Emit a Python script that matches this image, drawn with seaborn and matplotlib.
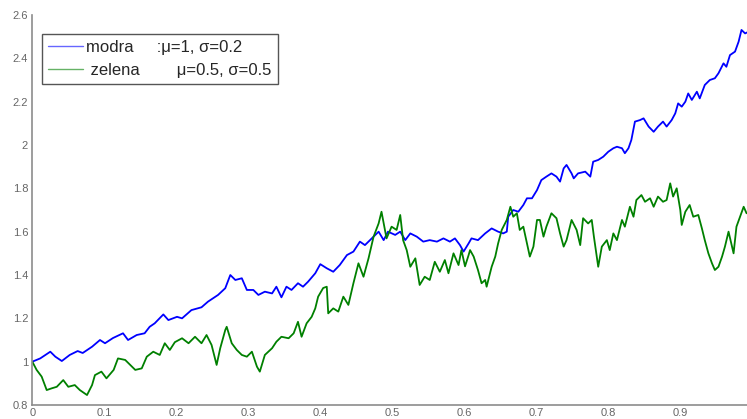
import numpy as np
import pandas as pd
import matplotlib
matplotlib.use("Agg")
import matplotlib.pyplot as plt
import seaborn as sns

# Blue path ("modra"): mu=1, sigma=0.2
t_blue = [0.000, 0.011, 0.025, 0.032, 0.041, 0.052, 0.063, 0.070, 0.083, 0.094,
          0.101, 0.112, 0.126, 0.133, 0.145, 0.156, 0.163, 0.170, 0.182, 0.189,
          0.201, 0.208, 0.221, 0.235, 0.244, 0.258, 0.268, 0.275, 0.282, 0.291,
          0.298, 0.307, 0.314, 0.323, 0.333, 0.339, 0.346, 0.353, 0.360, 0.369,
          0.376, 0.383, 0.393, 0.400, 0.409, 0.418, 0.427, 0.437, 0.446, 0.455,
          0.462, 0.469, 0.481, 0.488, 0.494, 0.504, 0.511, 0.518, 0.525, 0.534,
          0.543, 0.552, 0.562, 0.571, 0.580, 0.587, 0.594, 0.599, 0.606, 0.610,
          0.619, 0.629, 0.638, 0.647, 0.654, 0.659, 0.661, 0.668, 0.675, 0.682,
          0.687, 0.694, 0.701, 0.707, 0.714, 0.721, 0.728, 0.733, 0.738, 0.742,
          0.749, 0.752, 0.758, 0.768, 0.775, 0.779, 0.786, 0.793, 0.800, 0.807,
          0.812, 0.819, 0.823, 0.828, 0.832, 0.837, 0.844, 0.849, 0.856, 0.863,
          0.869, 0.876, 0.881, 0.888, 0.893, 0.897, 0.902, 0.907, 0.911, 0.916,
          0.923, 0.927, 0.934, 0.941, 0.948, 0.953, 0.960, 0.964, 0.969, 0.976,
          0.981, 0.985, 0.990, 0.993, 1.000]
y_blue = [1.000, 1.015, 1.046, 1.023, 1.003, 1.031, 1.049, 1.040, 1.069, 1.100,
          1.085, 1.109, 1.131, 1.100, 1.123, 1.131, 1.161, 1.177, 1.218, 1.192,
          1.207, 1.200, 1.238, 1.251, 1.277, 1.308, 1.339, 1.400, 1.377, 1.385,
          1.331, 1.331, 1.308, 1.323, 1.315, 1.346, 1.297, 1.346, 1.331, 1.362,
          1.346, 1.369, 1.408, 1.450, 1.431, 1.415, 1.446, 1.492, 1.508, 1.554,
          1.538, 1.561, 1.600, 1.561, 1.600, 1.585, 1.600, 1.561, 1.592, 1.577,
          1.554, 1.561, 1.554, 1.569, 1.554, 1.569, 1.538, 1.508, 1.546, 1.569,
          1.561, 1.592, 1.615, 1.600, 1.592, 1.600, 1.669, 1.700, 1.692, 1.723,
          1.754, 1.754, 1.792, 1.838, 1.854, 1.869, 1.854, 1.831, 1.892, 1.908,
          1.869, 1.846, 1.869, 1.877, 1.854, 1.923, 1.931, 1.946, 1.969, 1.985,
          1.992, 1.985, 1.962, 1.985, 2.023, 2.108, 2.115, 2.123, 2.085, 2.061,
          2.085, 2.108, 2.085, 2.115, 2.146, 2.192, 2.177, 2.200, 2.238, 2.208,
          2.246, 2.215, 2.277, 2.300, 2.308, 2.331, 2.377, 2.361, 2.415, 2.431,
          2.477, 2.531, 2.515, 2.520, 2.530]

# Green path ("zelena"): mu=0.5, sigma=0.5
t_green = [0.000, 0.006, 0.013, 0.020, 0.027, 0.034, 0.043, 0.050, 0.059, 0.066,
           0.076, 0.083, 0.087, 0.096, 0.103, 0.113, 0.119, 0.129, 0.136, 0.143,
           0.152, 0.159, 0.168, 0.177, 0.184, 0.191, 0.198, 0.208, 0.217, 0.226,
           0.235, 0.242, 0.249, 0.256, 0.261, 0.268, 0.270, 0.277, 0.284, 0.291,
           0.298, 0.305, 0.312, 0.316, 0.323, 0.333, 0.339, 0.346, 0.356, 0.363,
           0.369, 0.374, 0.381, 0.388, 0.393, 0.397, 0.404, 0.409, 0.411, 0.418,
           0.425, 0.432, 0.439, 0.446, 0.453, 0.460, 0.467, 0.474, 0.481, 0.485,
           0.492, 0.499, 0.506, 0.511, 0.515, 0.520, 0.525, 0.532, 0.538, 0.545,
           0.552, 0.559, 0.566, 0.573, 0.578, 0.585, 0.592, 0.596, 0.601, 0.606,
           0.608, 0.613, 0.619, 0.624, 0.629, 0.631, 0.638, 0.643, 0.647, 0.652,
           0.659, 0.664, 0.668, 0.673, 0.677, 0.682, 0.687, 0.691, 0.696, 0.701,
           0.705, 0.710, 0.714, 0.721, 0.728, 0.733, 0.738, 0.742, 0.749, 0.756,
           0.761, 0.765, 0.772, 0.777, 0.780, 0.786, 0.791, 0.798, 0.802, 0.807,
           0.812, 0.819, 0.823, 0.830, 0.835, 0.839, 0.846, 0.851, 0.858, 0.863,
           0.869, 0.876, 0.881, 0.886, 0.890, 0.895, 0.900, 0.902, 0.907, 0.913,
           0.918, 0.925, 0.930, 0.934, 0.939, 0.944, 0.948, 0.953, 0.958, 0.962,
           0.967, 0.974, 0.978, 0.983, 0.988, 0.992, 1.000]
y_green = [1.000, 0.962, 0.931, 0.869, 0.877, 0.884, 0.915, 0.884, 0.892, 0.869,
           0.846, 0.892, 0.938, 0.954, 0.923, 0.962, 1.015, 1.008, 0.985, 0.962,
           0.969, 1.023, 1.046, 1.031, 1.085, 1.054, 1.090, 1.108, 1.085, 1.115,
           1.085, 1.123, 1.077, 0.985, 1.062, 1.146, 1.161, 1.085, 1.054, 1.031,
           1.023, 1.046, 0.977, 0.954, 1.031, 1.062, 1.092, 1.115, 1.108, 1.131,
           1.184, 1.115, 1.177, 1.207, 1.246, 1.300, 1.340, 1.346, 1.223, 1.246,
           1.231, 1.300, 1.262, 1.362, 1.454, 1.392, 1.477, 1.577, 1.638, 1.692,
           1.569, 1.623, 1.608, 1.677, 1.561, 1.515, 1.438, 1.477, 1.354, 1.392,
           1.377, 1.461, 1.415, 1.469, 1.408, 1.500, 1.446, 1.515, 1.440, 1.492,
           1.515, 1.485, 1.423, 1.362, 1.377, 1.346, 1.438, 1.485, 1.546, 1.608,
           1.654, 1.715, 1.669, 1.685, 1.608, 1.623, 1.546, 1.485, 1.531, 1.654,
           1.654, 1.577, 1.623, 1.685, 1.662, 1.592, 1.531, 1.561, 1.654, 1.608,
           1.538, 1.662, 1.638, 1.654, 1.577, 1.438, 1.531, 1.561, 1.515, 1.592,
           1.561, 1.654, 1.623, 1.715, 1.669, 1.746, 1.769, 1.738, 1.754, 1.715,
           1.762, 1.738, 1.746, 1.823, 1.762, 1.800, 1.700, 1.631, 1.692, 1.723,
           1.669, 1.677, 1.615, 1.561, 1.500, 1.454, 1.423, 1.438, 1.485, 1.531,
           1.600, 1.500, 1.623, 1.669, 1.715, 1.685, 1.690]

labels = ["modra     :\u03bc=1, \u03c3=0.2", " zelena        \u03bc=0.5, \u03c3=0.5"]
x_ticks = [0, 0.1, 0.2, 0.3, 0.4, 0.5, 0.6, 0.7, 0.8, 0.9]
x_tick_labels = ["0", "0.1", "0.2", "0.3", "0.4", "0.5", "0.6", "0.7", "0.8", "0.9"]
y_ticks = [0.8, 1.0, 1.2, 1.4, 1.6, 1.8, 2.0, 2.2, 2.4, 2.6]
y_tick_labels = ["0.8", "1", "1.2", "1.4", "1.6", "1.8", "2", "2.2", "2.4", "2.6"]

sns.set_style("white")
plt.rcParams["font.family"] = ["Liberation Sans", "DejaVu Sans"]

W, H = 747, 419
fig = plt.figure(figsize=(W / 100, H / 100), dpi=100)
ax = fig.add_axes([32.3 / W, 1 - 405 / H, 720 / W, 390 / H])

df_b = pd.DataFrame({"t": t_blue, "v": y_blue})
df_g = pd.DataFrame({"t": t_green, "v": y_green})
sns.lineplot(data=df_b, x="t", y="v", ax=ax, color="#0000ff", lw=1.3,
             estimator=None, sort=False, label=labels[0])
sns.lineplot(data=df_g, x="t", y="v", ax=ax, color="#008000", lw=1.3,
             estimator=None, sort=False, label=labels[1])

ax.set_xlim(0, 1)
ax.set_ylim(0.8, 2.6)
ax.set_xticks(x_ticks)
ax.set_xticklabels(x_tick_labels)
ax.set_yticks(y_ticks)
ax.set_yticklabels(y_tick_labels)
ax.set_xlabel("")
ax.set_ylabel("")

for side in ("top", "right"):
    ax.spines[side].set_visible(False)
for side in ("left", "bottom"):
    ax.spines[side].set_color("#8c8c8c")
    ax.spines[side].set_linewidth(1.2)
ax.tick_params(direction="in", length=4, width=1, color="#8c8c8c",
               labelsize=8, labelcolor="#666666", pad=3)
ax.tick_params(axis="x", pad=2)

leg = ax.legend(loc="upper left", bbox_to_anchor=(42 / W, 1 - 34 / H),
                bbox_transform=fig.transFigure, borderaxespad=0,
                frameon=True, fancybox=False, fontsize=12,
                handlelength=2.05, handletextpad=0.2, borderpad=0.38,
                labelspacing=0.46)
frame = leg.get_frame()
frame.set_edgecolor("#555555")
frame.set_linewidth(1.0)
frame.set_facecolor("white")
frame.set_alpha(1)
for line in leg.get_lines():
    line.set_linewidth(1.0)
    line.set_alpha(0.6)

fig.savefig("out.png", dpi=100)
